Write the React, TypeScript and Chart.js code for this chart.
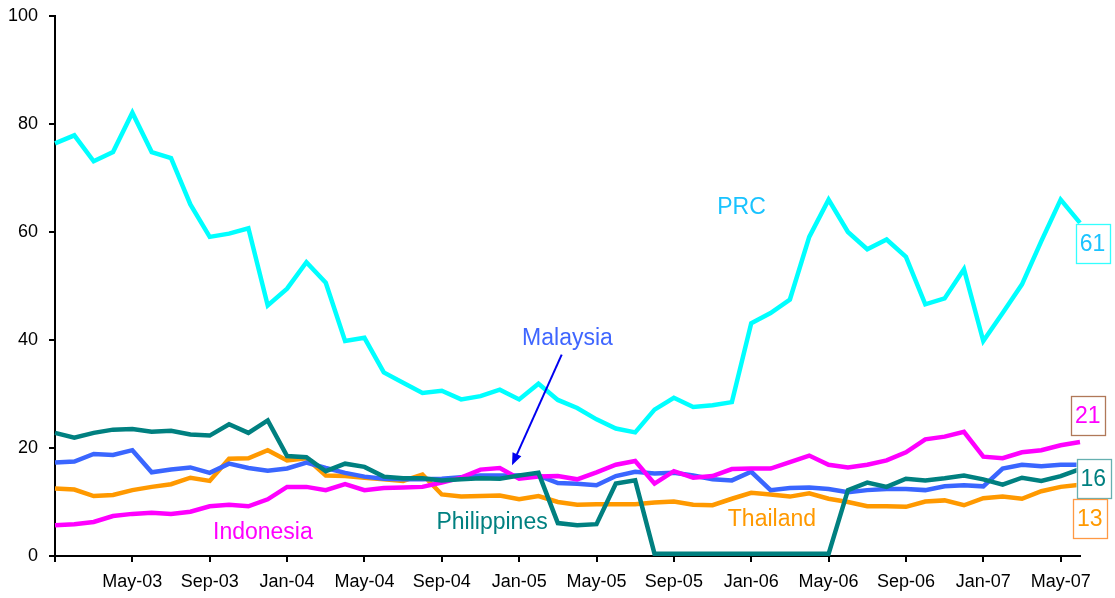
import React, { useEffect, useRef } from "react";
import { Chart, registerables } from "chart.js";

Chart.register(...registerables);

const categories = [
  "Jan-03", "Feb-03", "Mar-03", "Apr-03", "May-03", "Jun-03", "Jul-03", "Aug-03", "Sep-03", "Oct-03", "Nov-03", "Dec-03",
  "Jan-04", "Feb-04", "Mar-04", "Apr-04", "May-04", "Jun-04", "Jul-04", "Aug-04", "Sep-04", "Oct-04", "Nov-04", "Dec-04",
  "Jan-05", "Feb-05", "Mar-05", "Apr-05", "May-05", "Jun-05", "Jul-05", "Aug-05", "Sep-05", "Oct-05", "Nov-05", "Dec-05",
  "Jan-06", "Feb-06", "Mar-06", "Apr-06", "May-06", "Jun-06", "Jul-06", "Aug-06", "Sep-06", "Oct-06", "Nov-06", "Dec-06",
  "Jan-07", "Feb-07", "Mar-07", "Apr-07", "May-07", "Jun-07",
];

const tickLabels = [
  "May-03", "Sep-03", "Jan-04", "May-04", "Sep-04", "Jan-05", "May-05",
  "Sep-05", "Jan-06", "May-06", "Sep-06", "Jan-07", "May-07",
];

const prc = [
  76.4, 77.9, 73.1, 74.8, 82.1, 74.8, 73.7, 65.1, 59.1, 59.7, 60.7, 46.4,
  49.5, 54.4, 50.6, 39.8, 40.4, 34.0, 32.1, 30.2, 30.6, 29.0, 29.6, 30.8,
  29.0, 31.9, 28.9, 27.4, 25.3, 23.6, 22.9, 27.1, 29.3, 27.6, 27.9, 28.5,
  43.1, 45.0, 47.5, 59.1, 66.0, 60.0, 56.8, 58.6, 55.4, 46.6, 47.7, 53.1,
  39.8, 45.0, 50.3, 58.3, 66.0, 61.7,
];

const philippines = [
  22.8, 21.9, 22.8, 23.4, 23.5, 23.0, 23.2, 22.5, 22.3, 24.4, 22.8, 25.1,
  18.5, 18.3, 15.7, 17.1, 16.5, 14.7, 14.4, 14.4, 14.0, 14.2, 14.4, 14.3,
  14.9, 15.4, 6.1, 5.7, 5.9, 13.4, 14.0, 0.4, 0.4, 0.4, 0.4, 0.4,
  0.4, 0.4, 0.4, 0.4, 0.4, 12.2, 13.6, 12.8, 14.3, 14.0, 14.4, 14.9,
  14.2, 13.2, 14.5, 13.9, 14.8, 16.1,
];

const malaysia = [
  17.3, 17.5, 18.9, 18.7, 19.6, 15.5, 16.0, 16.4, 15.4, 17.1, 16.3, 15.8,
  16.2, 17.3, 16.3, 15.4, 14.7, 14.3, 14.2, 14.2, 14.3, 14.6, 14.9, 14.9,
  14.9, 14.9, 13.5, 13.4, 13.1, 14.8, 15.6, 15.3, 15.4, 14.9, 14.2, 14.0,
  15.6, 12.2, 12.6, 12.7, 12.4, 11.8, 12.2, 12.4, 12.4, 12.2, 12.9, 13.1,
  12.9, 16.2, 16.9, 16.6, 16.9, 16.9,
];

const thailand = [
  12.5, 12.3, 11.1, 11.3, 12.2, 12.8, 13.3, 14.5, 13.9, 18.0, 18.1, 19.6,
  17.7, 18.1, 14.9, 14.8, 14.5, 14.2, 13.9, 15.1, 11.4, 11.0, 11.1, 11.2,
  10.5, 11.1, 10.0, 9.5, 9.6, 9.6, 9.6, 9.9, 10.1, 9.5, 9.4, 10.6,
  11.7, 11.4, 11.0, 11.6, 10.6, 10.0, 9.2, 9.2, 9.1, 10.1, 10.3, 9.4,
  10.7, 11.0, 10.6, 12.0, 12.8, 13.2,
];

const indonesia = [
  5.7, 5.9, 6.3, 7.4, 7.8, 8.0, 7.8, 8.2, 9.2, 9.5, 9.2, 10.5,
  12.8, 12.8, 12.2, 13.3, 12.2, 12.6, 12.7, 12.8, 13.6, 14.5, 16.0, 16.3,
  14.3, 14.7, 14.8, 14.2, 15.5, 16.9, 17.6, 13.4, 15.7, 14.5, 14.8, 16.1,
  16.2, 16.2, 17.4, 18.6, 16.9, 16.4, 16.9, 17.7, 19.2, 21.6, 22.1, 23.0,
  18.4, 18.1, 19.2, 19.6, 20.5, 21.1,
];

const yTicks = [0, 20, 40, 60, 80, 100];

const FONT = "'Liberation Sans', Arial, Helvetica, sans-serif";

// Series labels placed in data space (category index, value)
const seriesLabels = [
  { text: "PRC", idx: 35.5, val: 64.5, color: "#19C3FF" },
  { text: "Malaysia", idx: 26.5, val: 40.2, color: "#3F66FF" },
  { text: "Indonesia", idx: 10.75, val: 4.4, color: "#FF00FF" },
  { text: "Philippines", idx: 22.6, val: 6.15, color: "#008080" },
  { text: "Thailand", idx: 37.07, val: 6.76, color: "#FF9900" },
];

// Arrow from Malaysia label to its line (data space)
const arrow = { fromIdx: 26.2, fromVal: 37.3, toIdx: 23.63, toVal: 16.8, color: "#0000F0" };

// End-value boxes (value text, box centre value, horizontal offset from last point)
const endBoxes = [
  { text: "61", val: 57.9, dx: 12.5, color: "#19C3FF", border: "#33FFFF" },
  { text: "21", val: 26.0, dx: 7.7, color: "#FF00FF", border: "#B07858" },
  { text: "16", val: 14.3, dx: 13.3, color: "#008080", border: "#66B0B0" },
  { text: "13", val: 6.9, dx: 9.7, color: "#FF9900", border: "#FF9944" },
];

const annotationPlugin = {
  id: "annotationsCustom",
  afterDatasetsDraw(chart: any) {
    const ctx = chart.ctx;
    const xs = chart.scales.x;
    const ys = chart.scales.y;
    ctx.save();
    ctx.font = `23px ${FONT}`;
    ctx.textAlign = "center";
    ctx.textBaseline = "middle";
    for (const l of seriesLabels) {
      ctx.fillStyle = l.color;
      ctx.fillText(l.text, xs.getPixelForValue(l.idx), ys.getPixelForValue(l.val));
    }
    // arrow
    const x1 = xs.getPixelForValue(arrow.fromIdx);
    const y1 = ys.getPixelForValue(arrow.fromVal);
    const x2 = xs.getPixelForValue(arrow.toIdx);
    const y2 = ys.getPixelForValue(arrow.toVal);
    const ang = Math.atan2(y2 - y1, x2 - x1);
    const head = 13;
    ctx.strokeStyle = arrow.color;
    ctx.fillStyle = arrow.color;
    ctx.lineWidth = 2;
    ctx.beginPath();
    ctx.moveTo(x1, y1);
    ctx.lineTo(x2 - Math.cos(ang) * head * 0.8, y2 - Math.sin(ang) * head * 0.8);
    ctx.stroke();
    ctx.beginPath();
    ctx.moveTo(x2, y2);
    ctx.lineTo(x2 - head * Math.cos(ang - 0.38), y2 - head * Math.sin(ang - 0.38));
    ctx.lineTo(x2 - head * Math.cos(ang + 0.38), y2 - head * Math.sin(ang + 0.38));
    ctx.closePath();
    ctx.fill();

    // end boxes
    const lastX = xs.getPixelForValue(categories.length - 1);
    for (const b of endBoxes) {
      const cx = lastX + b.dx;
      const cy = ys.getPixelForValue(b.val);
      const w = ctx.measureText(b.text).width + 8;
      const h = 39;
      ctx.fillStyle = "#FFFFFF";
      ctx.fillRect(cx - w / 2, cy - h / 2, w, h);
      ctx.strokeStyle = b.border;
      ctx.lineWidth = 1.3;
      ctx.strokeRect(Math.round(cx - w / 2) + 0.5, Math.round(cy - h / 2) + 0.5, Math.round(w), h);
      ctx.fillStyle = b.color;
      ctx.fillText(b.text, cx, cy + 1);
    }
    ctx.restore();
  },
};

export default function App() {
  const ref = useRef<HTMLCanvasElement | null>(null);

  useEffect(() => {
    document.body.style.margin = "0";
    const canvas = ref.current;
    if (!canvas) return;
    const line = (label: string, data: number[], color: string) => ({
      label,
      data,
      borderColor: color,
      backgroundColor: color,
      borderWidth: 4.5,
      pointRadius: 0,
      tension: 0,
      fill: false,
      borderJoinStyle: "miter" as const,
    });
    const chart = new Chart(canvas, {
      type: "line",
      data: {
        labels: categories,
        datasets: [
          line("PRC", prc, "#00FFFF"),
          line("Philippines", philippines, "#008080"),
          line("Indonesia", indonesia, "#FF00FF"),
          line("Malaysia", malaysia, "#3A66FF"),
          line("Thailand", thailand, "#FF9900"),
        ],
      },
      options: {
        responsive: false,
        animation: false,
        layout: { padding: { left: 0, right: 35, top: 16, bottom: 0 } },
        plugins: { legend: { display: false }, tooltip: { enabled: false } },
        scales: {
          x: {
            type: "category",
            offset: false,
            border: { display: true, color: "#000000", width: 2 },
            grid: { display: true, drawOnChartArea: false, drawTicks: true, tickLength: 6, color: "#000000", lineWidth: 2 },
            ticks: {
              autoSkip: false,
              maxRotation: 0,
              minRotation: 0,
              padding: 9,
              color: "#000000",
              font: { family: FONT, size: 18 },
              callback: (_v: any, index: number) => {
                const c = categories[index];
                if (tickLabels.includes(c)) return c;
                if (index === 0) return "";
                return null;
              },
            },
            afterFit: (s: any) => {
              s.height = 42;
              s.paddingLeft = 0;
              s.paddingRight = 0;
            },
          },
          y: {
            min: 0,
            max: 100,
            border: { display: true, color: "#000000", width: 2 },
            grid: { display: true, drawOnChartArea: false, drawTicks: true, tickLength: 6, color: "#000000", lineWidth: 2 },
            afterBuildTicks: (s: any) => {
              s.ticks = yTicks.map((v) => ({ value: v }));
            },
            ticks: {
              padding: 11,
              color: "#000000",
              font: { family: FONT, size: 18 },
            },
            afterFit: (s: any) => {
              s.width = 55;
              s.paddingTop = 0;
              s.paddingBottom = 0;
            },
          },
        },
      },
      plugins: [annotationPlugin],
    });
    return () => chart.destroy();
  }, []);

  return (
    <div style={{ width: 1115, height: 598 }}>
      <canvas ref={ref} width={1115} height={598} style={{ display: "block" }} />
    </div>
  );
}
